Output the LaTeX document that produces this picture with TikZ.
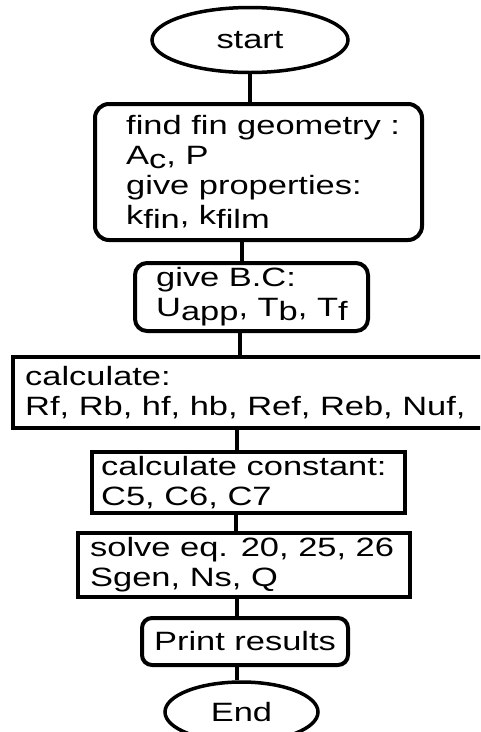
\documentclass[tikz,border=0pt]{standalone}
\usepackage{fontspec}
\setmainfont{Liberation Sans}[FakeStretch=1.3]
\usetikzlibrary{shapes.geometric}
\newcommand{\lowr}[1]{\raisebox{-4pt}{#1}}
\newcommand{\ff}{\fontsize{26.5pt}{30pt}\selectfont}
\tikzset{
  term/.style={ellipse, draw, line width=3.5pt, inner sep=0pt, font=\ff},
  rbox/.style={draw, rounded corners=14pt, line width=4pt, inner sep=0pt},
  sbox/.style={draw, line width=4pt, inner sep=0pt},
  txt/.style={font=\ff, inner sep=0pt, align=left, anchor=west},
  flow/.style={line width=4.5pt}
}
\begin{document}
\begin{tikzpicture}[x=1pt,y=-1pt]
\useasboundingbox (0,0) rectangle (480,732);
\clip (0,0) rectangle (480,732);
\fill[white] (0,0) rectangle (480,732);
% nodes
\node[term, minimum width=196pt, minimum height=65pt] (start) at (250,40) {start};
\node[rbox, minimum width=327pt, minimum height=136pt] (b1) at (258.5,172) {};
\node[txt] (b1t) at ([xshift=33pt]b1.west) {find fin geometry :\\A\lowr{c}, P\\give properties:\\k\lowr{fin}, k\lowr{film}};
\node[rbox, rounded corners=12pt, minimum width=233pt, minimum height=68pt] (b2) at (251.5,297) {};
\node[txt] (b2t) at ([xshift=23pt]b2.west) {give B.C:\\U\lowr{app}, T\lowr{b}, T\lowr{f}};
\node[sbox, minimum width=487pt, minimum height=71pt] (b3) at (256.5,392.5) {};
\node[txt] (b3t) at ([xshift=14pt]b3.west) {calculate:\\Rf, Rb, hf, hb, Ref, Reb, Nuf,};
\node[sbox, minimum width=313pt, minimum height=61pt] (b4) at (248.5,482.5) {};
\node[txt] (b4t) at ([xshift=11pt]b4.west) {calculate constant:\\C5, C6, C7};
\node[sbox, minimum width=332pt, minimum height=64pt] (b5) at (244,565) {};
\node[txt] (b5t) at ([xshift=14pt]b5.west) {solve eq. 20, 25, 26\\Sgen, Ns, Q};
\node[rbox, rounded corners=10pt, minimum width=206pt, minimum height=47pt, font=\ff] (b6) at (245,641.5) {Print results};
\node[term, minimum width=153pt, minimum height=60pt] (end) at (241.5,712) {End};
% connector x positions
\coordinate (x1) at (250,0);
\coordinate (x2) at (242,0);
\coordinate (x3) at (240,0);
\coordinate (x4) at (237,0);
\coordinate (x5) at (236,0);
\coordinate (x6) at (237,0);
\coordinate (x7) at (237,0);
% connectors
\draw[flow] (start.south -| x1) -- (b1.north -| x1);
\draw[flow] (b1.south -| x2) -- (b2.north -| x2);
\draw[flow] (b2.south -| x3) -- (b3.north -| x3);
\draw[flow] (b3.south -| x4) -- (b4.north -| x4);
\draw[flow] (b4.south -| x5) -- (b5.north -| x5);
\draw[flow] (b5.south -| x6) -- (b6.north -| x6);
\draw[flow] (b6.south -| x7) -- (end.north -| x7);
\end{tikzpicture}
\end{document}
